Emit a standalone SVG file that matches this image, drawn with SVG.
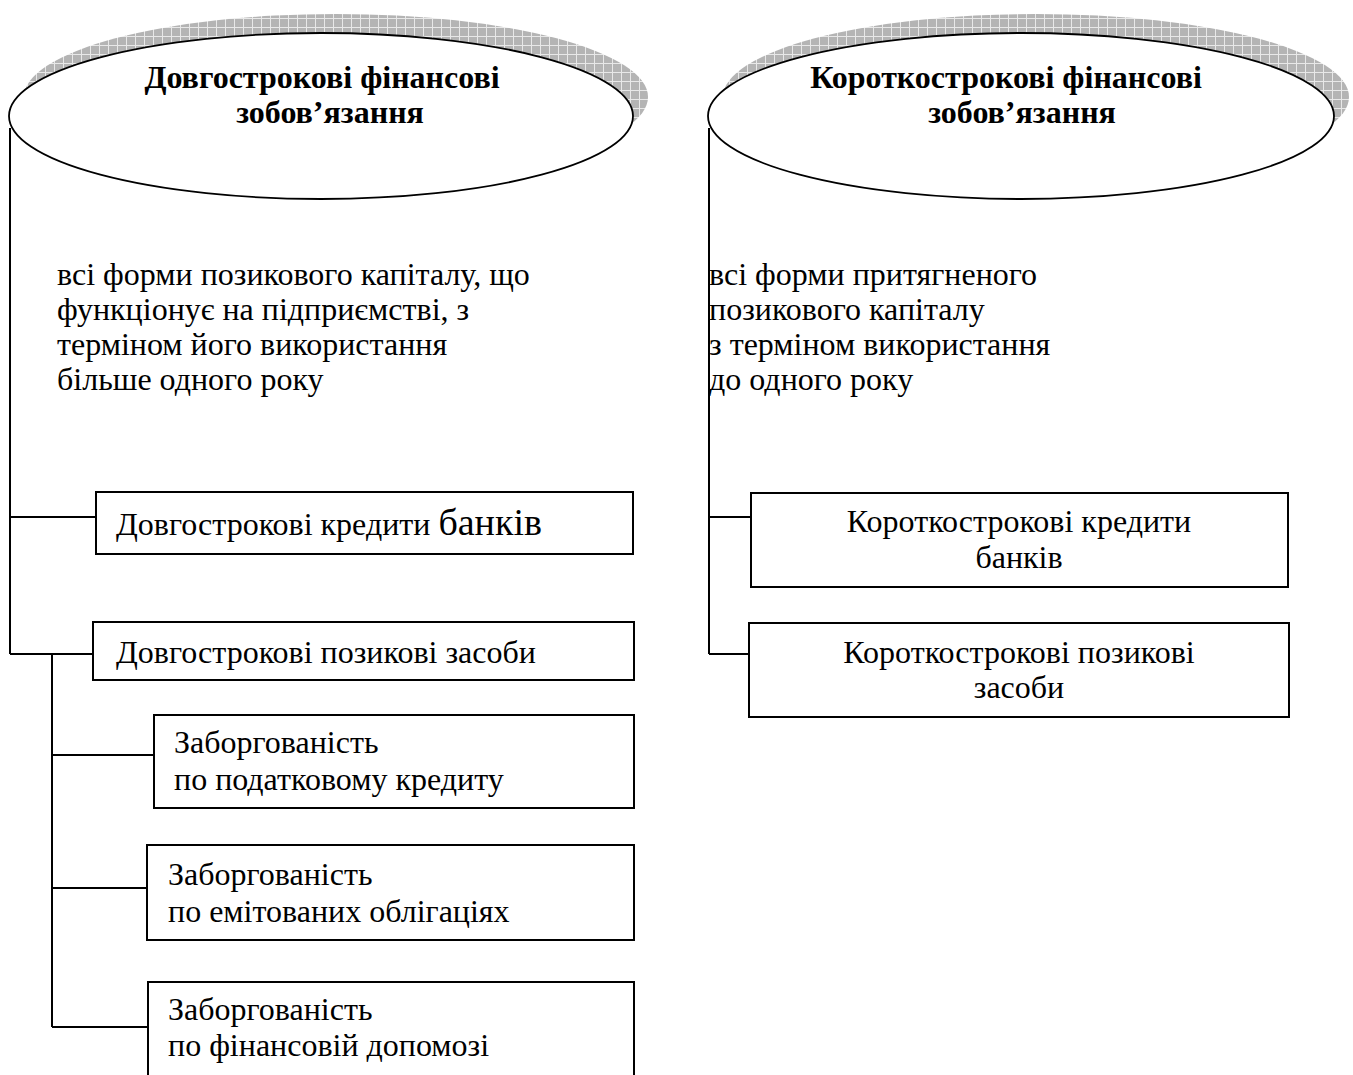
<svg xmlns="http://www.w3.org/2000/svg" width="1353" height="1075" viewBox="0 0 1353 1075">
<style>
text{font-family:"Liberation Serif","Times New Roman",serif;fill:#000}
.t{font-size:32px}
.h{font-size:32px;font-weight:bold}
.box{fill:#fff;stroke:#000;stroke-width:2}
.ell{fill:#fff;stroke:#000;stroke-width:1.8}
.con{fill:none;stroke:#000;stroke-width:2}
</style>
<defs>
<pattern id="grid" width="9" height="9" patternUnits="userSpaceOnUse">
<rect width="9" height="9" fill="#b4b4b4"/>
<path d="M0 0.5H9M0.5 0V9" stroke="#e8e8e8" stroke-width="1"/>
</pattern>
</defs>
<g id="n-long">
<ellipse cx="336" cy="97" rx="312" ry="83" fill="url(#grid)"/>
<ellipse class="ell" cx="321" cy="116" rx="312" ry="83"/>
<text class="h" x="322" y="88" text-anchor="middle">Довгострокові фінансові</text>
<text class="h" x="330" y="123" text-anchor="middle">зобов’язання</text>
</g>
<g id="n-short">
<ellipse cx="1036" cy="97" rx="313" ry="83" fill="url(#grid)"/>
<ellipse class="ell" cx="1021" cy="116" rx="313" ry="83"/>
<text class="h" x="1006" y="88" text-anchor="middle">Короткострокові фінансові</text>
<text class="h" x="1022" y="123" text-anchor="middle">зобов’язання</text>
</g>
<g id="d-long">
<text class="t" x="57" y="285">всі форми позикового капіталу, що</text>
<text class="t" x="57" y="320">функціонує на підприємстві, з</text>
<text class="t" x="57" y="355">терміном його використання</text>
<text class="t" x="57" y="390">більше одного року</text>
</g>
<g id="d-short">
<text class="t" x="709" y="285">всі форми притягненого</text>
<text class="t" x="709" y="320">позикового капіталу</text>
<text class="t" x="709" y="355">з терміном використання</text>
<text class="t" x="709" y="390">до одного року</text>
</g>
<g id="connectors">
<path class="con" d="M10 128V654M10 517H96M10 654H93M52 654V1027M52 755H154M52 888H147M52 1027H148"/>
<path class="con" d="M709 128V654M709 517H751M709 654H749"/>
</g>
<g id="b1">
<rect class="box" x="96" y="492" width="537" height="62"/>
<text class="t" x="116" y="535">Довгострокові кредити <tspan font-size="38">банків</tspan></text>
</g>
<g id="b2">
<rect class="box" x="93" y="622" width="541" height="58"/>
<text class="t" x="116" y="663">Довгострокові позикові засоби</text>
</g>
<g id="b3">
<rect class="box" x="154" y="715" width="480" height="93"/>
<text class="t" x="174" y="753">Заборгованість</text>
<text class="t" x="174" y="790">по податковому кредиту</text>
</g>
<g id="b4">
<rect class="box" x="147" y="845" width="487" height="95"/>
<text class="t" x="168" y="885">Заборгованість</text>
<text class="t" x="168" y="922">по емітованих облігаціях</text>
</g>
<g id="b5">
<rect class="box" x="148" y="982" width="486" height="110"/>
<text class="t" x="168" y="1020">Заборгованість</text>
<text class="t" x="168" y="1056">по фінансовій допомозі</text>
</g>
<g id="b6">
<rect class="box" x="751" y="493" width="537" height="94"/>
<text class="t" x="1019" y="532" text-anchor="middle">Короткострокові кредити</text>
<text class="t" x="1019" y="568" text-anchor="middle">банків</text>
</g>
<g id="b7">
<rect class="box" x="749" y="623" width="540" height="94"/>
<text class="t" x="1019" y="663" text-anchor="middle">Короткострокові позикові</text>
<text class="t" x="1019" y="698" text-anchor="middle">засоби</text>
</g>
</svg>
